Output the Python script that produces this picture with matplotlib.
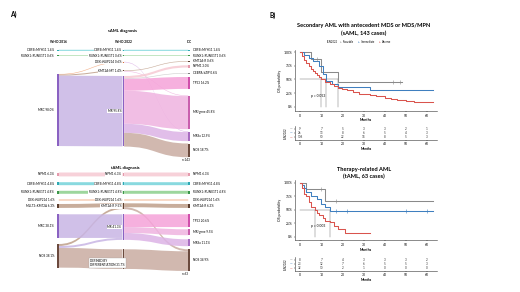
import matplotlib
matplotlib.use("Agg")
import matplotlib.pyplot as plt
import numpy as np
from matplotlib.patches import Rectangle, PathPatch
from matplotlib.path import Path

plt.rcParams.update({"font.family": ["Lato", "DejaVu Sans"]})

# ── sAML sankey (WHO 2016 -> WHO 2022 -> ICC) ───────────────────────────────
SA_LEFT = ["CBFB::MYH11", "RUNX1::RUNX1T1", "MRC"]
SA_LEFT_PCT = [1.4, 0.6, 98.0]
SA_MID = ["CBFB::MYH11", "RUNX1::RUNX1T1", "DEK::NUP214", "KMT2A-MT", "MR"]
SA_MID_PCT = [1.4, 0.6, 0.6, 1.4, 95.8]
SA_RIGHT = ["CBFB::MYH11", "RUNX1::RUNX1T1", "KMT2A-R", "NPM1", "CEBPA-bZIP",
            "TP53", "MR/gene", "MRSa", "NOS"]
SA_RIGHT_PCT = [1.4, 0.6, 0.6, 3.0, 0.6, 16.2, 45.8, 12.9, 18.7]
SA_LM_SRC = [0, 1, 2, 2, 2]
SA_LM_DST = [0, 1, 2, 3, 4]
SA_LM_VAL = [1.4, 0.6, 0.6, 1.4, 95.8]
SA_MR_SRC = [0, 1, 2, 3, 3, 4, 4, 4, 4, 4, 4]
SA_MR_DST = [0, 1, 7, 2, 6, 3, 4, 5, 6, 7, 8]
SA_MR_VAL = [1.4, 0.6, 0.6, 0.6, 0.8, 3.0, 0.6, 16.2, 45.0, 12.3, 18.7]

# ── tAML sankey ─────────────────────────────────────────────────────────────
TA_LEFT = ["NPM1", "CBFB::MYH11", "RUNX1::RUNX1T1", "DEK::NUP214", "MLLT3::KMT2A",
           "MRC", "NOS"]
TA_LEFT_PCT = [6.3, 4.8, 4.8, 1.6, 6.3, 38.1, 38.1]
TA_MID = ["NPM1", "CBFB::MYH11", "RUNX1::RUNX1T1", "DEK::NUP214", "KMT2A-R", "MR",
          "DEFINED BY\nDIFFERENTIATION"]
TA_MID_PCT = [6.3, 4.8, 4.8, 1.6, 9.5, 41.3, 31.7]
TA_RIGHT = ["NPM1", "CBFB::MYH11", "RUNX1::RUNX1T1", "DEK::NUP214", "KMT2A-R",
            "TP53", "MR/gene", "MRSa", "NOS"]
TA_RIGHT_PCT = [6.3, 4.8, 4.8, 1.6, 6.3, 20.6, 9.5, 11.1, 34.9]
TA_LM_SRC = [0, 1, 2, 3, 4, 6, 5, 6, 6]
TA_LM_DST = [0, 1, 2, 3, 4, 4, 5, 5, 6]
TA_LM_VAL = [6.3, 4.8, 4.8, 1.6, 6.3, 3.2, 38.1, 3.2, 31.7]
TA_MR_SRC = [0, 1, 2, 3, 4, 4, 5, 5, 5, 6]
TA_MR_DST = [0, 1, 2, 3, 4, 8, 5, 6, 7, 8]
TA_MR_VAL = [6.3, 4.8, 4.8, 1.6, 6.3, 3.2, 20.6, 9.5, 11.1, 31.7]

# ── Kaplan-Meier, sAML (143 cases) ──────────────────────────────────────────
SA_FAV_T = [0, 5, 10, 18, 48]
SA_FAV_S = [1.0, 0.88, 0.64, 0.45, 0.45]
SA_FAV_C = [8, 44, 47]
SA_INT_T = [0, 2, 4, 6, 9, 11, 12.3, 15, 18, 33, 63]
SA_INT_S = [1.0, 0.95, 0.90, 0.83, 0.74, 0.60, 0.48, 0.42, 0.36, 0.30, 0.30]
SA_INT_C = []
SA_ADV_T = [0, 1, 2, 3, 4, 5, 6, 7, 8, 9, 10, 12, 14, 16, 18, 20, 22, 25, 28, 30,
            33, 36, 40, 43, 46, 50, 54, 58, 63]
SA_ADV_S = [1.0, 0.93, 0.86, 0.80, 0.75, 0.70, 0.66, 0.62, 0.58, 0.54, 0.50, 0.46,
            0.42, 0.38, 0.35, 0.32, 0.30, 0.27, 0.24, 0.23, 0.21, 0.19, 0.16, 0.14,
            0.12, 0.10, 0.09, 0.08, 0.08]
SA_ADV_C = []
SA_RISK = [[9, 7, 5, 3, 3, 2, 1],
           [26, 13, 8, 6, 5, 4, 3],
           [108, 50, 22, 14, 8, 5, 3]]
SA_P = "p = 0.053"

# ── Kaplan-Meier, tAML (63 cases) ───────────────────────────────────────────
TA_FAV_T = [0, 3, 12, 63]
TA_FAV_S = [1.0, 0.88, 0.67, 0.67]
TA_FAV_C = [10, 17]
TA_INT_T = [0, 1, 2, 3, 5, 8, 10, 12, 14, 63]
TA_INT_S = [1.0, 0.95, 0.90, 0.82, 0.75, 0.70, 0.60, 0.55, 0.47, 0.47]
TA_INT_C = [17, 22, 50, 60]
TA_ADV_T = [0, 1, 2, 3, 4, 5, 7, 8, 9, 11, 12, 14, 16, 18, 21, 33]
TA_ADV_S = [1.0, 0.90, 0.80, 0.75, 0.65, 0.55, 0.50, 0.45, 0.40, 0.35, 0.30, 0.27,
            0.20, 0.15, 0.08, 0.08]
TA_ADV_C = []
TA_RISK = [[8, 7, 4, 3, 3, 3, 2],
           [23, 12, 7, 6, 5, 5, 3],
           [32, 10, 2, 1, 0, 0, 0]]
TA_P = "p = 0.003"

GROUPS = ["Favorable", "Intermediate", "Adverse"]
MONTH_TICKS = [0, 10, 20, 30, 40, 50, 60]

# ── styles ──────────────────────────────────────────────────────────────────
KM_COL = ["#8a8a8a", "#3f7fbf", "#d9544d"]
NODE_COL = {  # name: (flow colour, bar colour)
    "NPM1": ("#f6c9d3", "#e49aac"),
    "CBFB::MYH11": ("#74d3da", "#2fa9b3"),
    "RUNX1::RUNX1T1": ("#8ccf8c", "#3b964a"),
    "DEK::NUP214": ("#f0a77c", "#d5713a"),
    "KMT2A-MT": ("#bf9f8a", "#5e4030"),
    "KMT2A-R": ("#bf9f8a", "#5e4030"),
    "MLLT3::KMT2A": ("#bf9f8a", "#5e4030"),
    "CEBPA-bZIP": ("#c8c8c8", "#808080"),
    "MRC": ("#c8b5e4", "#8a62c2"),
    "MR": ("#c8b5e4", "#8a62c2"),
    "TP53": ("#f5a3d9", "#d04fab"),
    "MR/gene": ("#efb3e0", "#c95fae"),
    "MRSa": ("#dcb3e6", "#a86cc0"),
    "NOS": ("#c9aca1", "#6b4a3e"),
    "DEFINED BY\nDIFFERENTIATION": ("#c9aca1", "#6b4a3e"),
}
XS = [58.0, 123.3, 189.0]
FS = 2.2


def ribbon(ax, x0, x1, y0, y1, w, color):
    xm = (x0 + x1) / 2
    verts = [(x0, y0), (xm, y0), (xm, y1), (x1, y1), (x1, y1 + w),
             (xm, y1 + w), (xm, y0 + w), (x0, y0 + w), (x0, y0)]
    codes = [Path.MOVETO, Path.CURVE4, Path.CURVE4, Path.CURVE4, Path.LINETO,
             Path.CURVE4, Path.CURVE4, Path.CURVE4, Path.CLOSEPOLY]
    ax.add_patch(PathPatch(Path(verts, codes), fc=color, ec="none", alpha=0.85, zorder=1))


def flows(ax, x0, x1, tops_a, tops_b, src, dst, val, names_b, scale):
    w = [max(v * scale, 0.6) for v in val]
    idx = range(len(val))
    off_a, off_b = list(tops_a), list(tops_b)
    ya, yb = {}, {}
    for i in sorted(idx, key=lambda i: (src[i], tops_b[dst[i]])):
        ya[i] = off_a[src[i]]; off_a[src[i]] += w[i]
    for i in sorted(idx, key=lambda i: (dst[i], tops_a[src[i]])):
        yb[i] = off_b[dst[i]]; off_b[dst[i]] += w[i]
    for i in idx:
        ribbon(ax, x0, x1, ya[i], yb[i], w[i], NODE_COL[names_b[dst[i]]][0])


def nodes(ax, x, tops, names, pcts, scale, side):
    for t, n, p in zip(tops, names, pcts):
        h = max(p * scale, 0.8)
        ax.add_patch(Rectangle((x - 0.8, t), 1.6, h, fc=NODE_COL[n][1], ec="none", zorder=3))
        yc = t + h / 2
        lab = f"{n} {p:.1f}%"
        if side == "L":
            ax.text(x - 4, yc, lab, fontsize=FS, ha="right", va="center", zorder=4)
        elif side == "R":
            ax.text(x + 4, yc, lab, fontsize=FS, ha="left", va="center", zorder=4)
        elif "\n" in n:
            ax.text(x - 33, yc + 4, lab, fontsize=FS, ha="left", va="center", zorder=4,
                    linespacing=1.2,
                    bbox=dict(fc="white", ec="#999999", lw=0.2, pad=0.6))
        else:
            ax.text(x - 2, yc, lab, fontsize=FS, ha="right", va="center", zorder=4,
                    bbox=dict(fc="white", ec="none", pad=0.2))


def sankey(ax, cols, tops, lm, mr, scale):
    (ln, lp), (mn, mp), (rn, rp) = cols
    flows(ax, XS[0] + 0.8, XS[1] - 0.8, tops[0], tops[1], *lm, mn, scale)
    flows(ax, XS[1] + 0.8, XS[2] - 0.8, tops[1], tops[2], *mr, rn, scale)
    nodes(ax, XS[0], tops[0], ln, lp, scale, "L")
    nodes(ax, XS[1], tops[1], mn, mp, scale, "M")
    nodes(ax, XS[2], tops[2], rn, rp, scale, "R")


def median(t, s):
    for ti, si in zip(t, s):
        if si <= 0.5:
            return ti
    return None


def style_ax(ax):
    ax.set_facecolor("none")
    for s in ("top", "right"):
        ax.spines[s].set_visible(False)
    for s in ("left", "bottom"):
        ax.spines[s].set_linewidth(0.4)
        ax.spines[s].set_color("#333333")
    ax.tick_params(labelsize=2.4, length=1.0, width=0.3, pad=0.8)


def km(ax, curves, p_text, p_xy, ylim):
    meds = []
    for (t, s, c), col in zip(curves, KM_COL):
        ax.step(t, s, where="post", color=col, lw=0.75, zorder=3)
        if c:
            cy = [s[np.searchsorted(t, ci, side="right") - 1] for ci in c]
            ax.plot(c, cy, "+", color=col, ms=2.2, mew=0.4, zorder=4)
        m = median(t, s)
        if m is not None:
            meds.append(m)
    ax.plot([0, max(meds)], [0.5, 0.5], color="#777777", lw=0.35, zorder=2)
    for m in meds:
        ax.plot([m, m], [0, 0.5], color="#777777", lw=0.35, zorder=2)
    ax.text(*p_xy, p_text, fontsize=2.4, ha="left", va="center")
    ax.set_xlim(-2.4, 64.7)
    ax.set_ylim(*ylim)
    ax.set_yticks([0, 0.25, 0.5, 0.75, 1.0])
    ax.set_yticklabels(["0%", "25%", "50%", "75%", "100%"])
    ax.set_xticks(MONTH_TICKS)
    ax.set_ylabel("OS probability", fontsize=2.5, labelpad=1.5)
    ax.set_xlabel("Months", fontsize=2.5, fontweight="bold", labelpad=0.6)
    style_ax(ax)


def risk(ax, table):
    for r, row in enumerate(table):
        for m, n in zip(MONTH_TICKS, row):
            ax.text(m, r + 1, str(n), fontsize=2.2, ha="center", va="center",
                    color="#333333")
    ax.set_xlim(-2.4, 64.7)
    ax.set_ylim(3.6, 0.4)
    ax.set_xticks(MONTH_TICKS)
    ax.set_yticks([1, 2, 3])
    ax.set_yticklabels(["—"] * 3, fontweight="bold")
    for lab, col in zip(ax.get_yticklabels(), KM_COL):
        lab.set_color(col)
    ax.set_ylabel("ELN2022", fontsize=2.0, labelpad=1.5)
    ax.set_xlabel("Months", fontsize=2.3, fontweight="bold", labelpad=0.6)
    style_ax(ax)


fig = plt.figure(figsize=(5.2, 2.92), dpi=100)
bg = fig.add_axes([0, 0, 1, 1])
bg.set_xlim(0, 520); bg.set_ylim(292, 0); bg.axis("off")


def px_axes(x0, y0, x1, y1):
    return fig.add_axes([x0 / 520, 1 - y1 / 292, (x1 - x0) / 520, (y1 - y0) / 292])


# ══ Panel A ═════════════════════════════════════════════════════════════════
bg.text(10, 14, "A)", fontsize=4.8, fontweight="bold", ha="left", va="center")
bg.text(123, 31, "sAML diagnosis", fontsize=3.0, fontweight="bold", ha="center", va="center")
for x, h in zip(XS, ["WHO 2016", "WHO 2022", "ICC"]):
    bg.text(x, 42, h, fontsize=2.3, fontweight="bold", ha="center", va="center")

sankey(bg, [(SA_LEFT, SA_LEFT_PCT), (SA_MID, SA_MID_PCT), (SA_RIGHT, SA_RIGHT_PCT)],
       [[49.8, 55.2, 74.0],
        [49.8, 55.2, 61.8, 70.4, 76.0],
        [49.8, 55.2, 61.0, 65.3, 73.0, 77.0, 95.5, 131.5, 143.5]],
       (SA_LM_SRC, SA_LM_DST, SA_LM_VAL), (SA_MR_SRC, SA_MR_DST, SA_MR_VAL), 0.735)
bg.text(186, 160, "n=143", fontsize=FS, ha="center", va="center")

bg.text(125, 168, "tAML diagnosis", fontsize=3.0, fontweight="bold", ha="center", va="center")
sankey(bg, [(TA_LEFT, TA_LEFT_PCT), (TA_MID, TA_MID_PCT), (TA_RIGHT, TA_RIGHT_PCT)],
       [[172.5, 182.2, 190.8, 199.5, 204.0, 214.3, 244.0],
        [172.5, 182.2, 190.8, 199.5, 203.3, 214.3, 249.3],
        [172.5, 182.2, 190.8, 199.5, 204.0, 214.3, 229.3, 239.3, 249.3]],
       (TA_LM_SRC, TA_LM_DST, TA_LM_VAL), (TA_MR_SRC, TA_MR_DST, TA_MR_VAL), 0.62)
bg.text(185, 274, "n=63", fontsize=FS, ha="center", va="center")

# ══ Panel B ═════════════════════════════════════════════════════════════════
bg.text(269, 15, "B)", fontsize=4.8, fontweight="bold", ha="left", va="center")
bg.text(364, 25, "Secondary AML with antecedent MDS or MDS/MPN", fontsize=4.1,
        fontweight="bold", ha="center", va="center")
bg.text(364, 33.3, "(sAML, 143 cases)", fontsize=4.1, fontweight="bold",
        ha="center", va="center")
lx = 327
bg.text(lx, 42.3, "ELN2022", fontsize=1.9, ha="left", va="center")
lx += 13
for g, col in zip(GROUPS, KM_COL):
    bg.text(lx, 42.3, "+", fontsize=2.2, color=col, ha="left", va="center", fontweight="bold")
    bg.text(lx + 3, 42.3, g, fontsize=1.9, ha="left", va="center")
    lx += 3 + len(g) * 1.2 + 4

ax1 = px_axes(295, 50, 437, 111)
km(ax1, [(SA_FAV_T, SA_FAV_S, SA_FAV_C), (SA_INT_T, SA_INT_S, SA_INT_C),
         (SA_ADV_T, SA_ADV_S, SA_ADV_C)], SA_P, (5, 0.2), (-0.08, 1.04))
ax1r = px_axes(295, 126, 437, 140)
risk(ax1r, SA_RISK)

bg.text(364, 169.3, "Therapy-related AML", fontsize=4.1, fontweight="bold",
        ha="center", va="center")
bg.text(364, 176.7, "(tAML, 63 cases)", fontsize=4.1, fontweight="bold",
        ha="center", va="center")
ax2 = px_axes(295, 180, 437, 240.3)
km(ax2, [(TA_FAV_T, TA_FAV_S, TA_FAV_C), (TA_INT_T, TA_INT_S, TA_INT_C),
         (TA_ADV_T, TA_ADV_S, TA_ADV_C)], TA_P, (5, 0.2), (-0.061, 1.05))
ax2r = px_axes(295, 257, 437, 271)
risk(ax2r, TA_RISK)

fig.savefig("out.png", dpi=100)
